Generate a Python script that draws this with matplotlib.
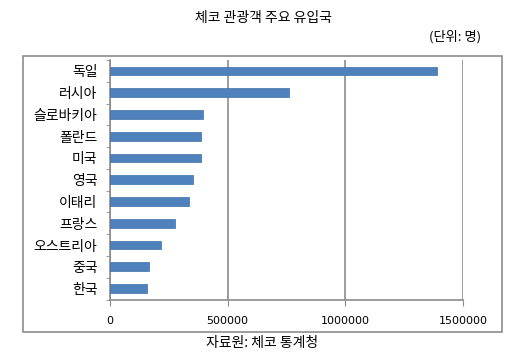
import matplotlib
matplotlib.use('Agg')
import matplotlib.pyplot as plt
from matplotlib.patches import Rectangle
from matplotlib.ticker import MultipleLocator
import numpy as np

plt.rcParams['font.family'] = ['Noto Sans CJK KR', 'DejaVu Sans']

# data
countries = ['독일', '러시아', '슬로바키아', '폴란드', '미국', '영국',
             '이태리', '프랑스', '오스트리아', '중국', '한국']
visitors = [1390000, 762000, 397000, 388000, 387000, 354000,
            334000, 275000, 215000, 164000, 156000]
xticks = [0, 500000, 1000000, 1500000]

W, H = 515, 357
fig = plt.figure(figsize=(W / 100, H / 100), dpi=100)

# outer chart border
fig.patches.append(Rectangle((23 / W, 1 - 332 / H), (502 - 23) / W, (332 - 56) / H,
                             transform=fig.transFigure, fill=False,
                             edgecolor='#8c8c8c', linewidth=1.2))

ax = fig.add_axes([110 / W, 1 - 299.5 / H, 353 / W, (299.5 - 60) / H])

y = np.arange(len(countries))
ax.barh(y, visitors, height=0.4, color='#4f81bd', edgecolor='#3f6fa8',
        linewidth=0.5, zorder=3)
ax.set_ylim(len(countries) - 0.5, -0.5)
ax.set_xlim(0, 1500000)

ax.set_xticks(xticks)
ax.set_xticklabels([str(v) for v in xticks], family='DejaVu Sans', fontsize=8)
ax.set_yticks(y)
ax.set_yticklabels(countries, fontsize=10)
ax.yaxis.set_minor_locator(MultipleLocator(1, offset=0.5))
ax.set_yticks(np.arange(-0.5, len(countries), 1), minor=True)

ax.tick_params(axis='y', which='major', length=0, pad=9)
ax.tick_params(axis='y', which='minor', length=3, color='#8c8c8c', direction='out')
ax.tick_params(axis='x', length=4, color='#8c8c8c', direction='out', pad=8)

ax.grid(axis='x', color='#8c8c8c', linewidth=1.2, zorder=0)
for side in ['top', 'right']:
    ax.spines[side].set_visible(False)
for side in ['left', 'bottom']:
    ax.spines[side].set_color('#8c8c8c')
    ax.spines[side].set_linewidth(1.2)

fig.text(263 / W, 1 - 18 / H, '체코 관광객 주요 유입국', ha='center', va='center', fontsize=10)
fig.text(481 / W, 1 - 37 / H, '(단위: 명)', ha='right', va='center', fontsize=9.5)
fig.text(262 / W, 1 - 343 / H, '자료원: 체코 통계청', ha='center', va='center', fontsize=10)

fig.savefig('out.png', dpi=100, facecolor='white')
